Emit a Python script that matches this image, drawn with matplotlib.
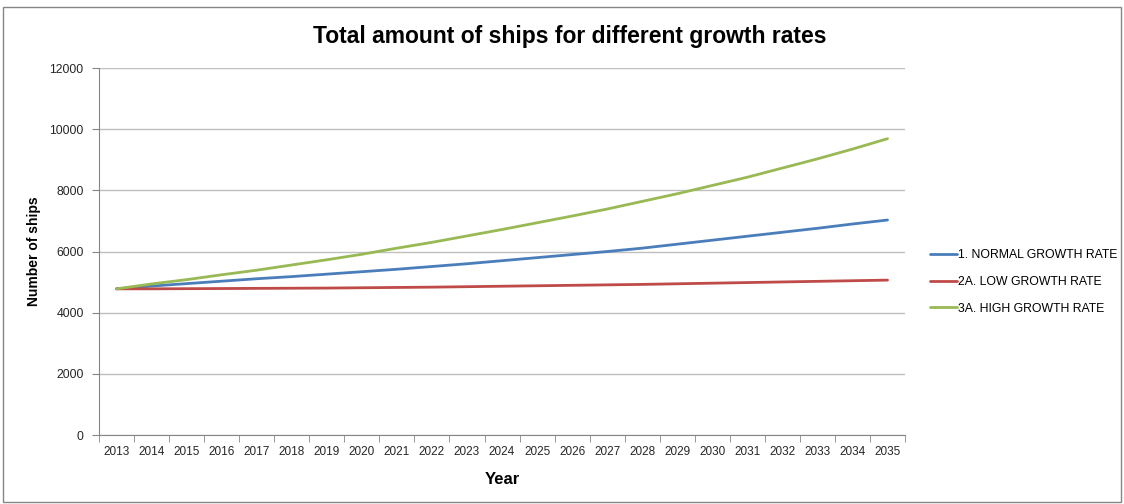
import matplotlib
matplotlib.use("Agg")
import matplotlib.pyplot as plt
from matplotlib.patches import Rectangle

years = [str(y) for y in range(2013, 2036)]
normal = [4780, 4870, 4950, 5030, 5110, 5180, 5260, 5340, 5420, 5510, 5600, 5700,
          5800, 5900, 6000, 6110, 6240, 6370, 6500, 6630, 6760, 6900, 7030]
low = [4780, 4780, 4785, 4790, 4795, 4800, 4805, 4815, 4825, 4835, 4850, 4865,
       4880, 4895, 4910, 4925, 4945, 4965, 4985, 5005, 5025, 5045, 5065]
high = [4780, 4940, 5080, 5240, 5390, 5560, 5730, 5910, 6110, 6300, 6510, 6720,
        6940, 7160, 7390, 7640, 7890, 8160, 8430, 8730, 9030, 9350, 9690]
labels = ["1. NORMAL GROWTH RATE", "2A. LOW GROWTH RATE", "3A. HIGH GROWTH RATE"]
colors = ["#4A7EBB", "#BE4B48", "#98B954"]

plt.rcParams['font.family'] = ['Liberation Sans', 'DejaVu Sans']

fig = plt.figure(figsize=(11.24, 5.04), dpi=100)
ax = fig.add_axes([0.0881, 0.1369, 0.7171, 0.7281])

x = list(range(len(years)))
for vals, lbl, c in zip([normal, low, high], labels, colors):
    ax.plot(x, vals, color=c, linewidth=2.0, label=lbl, solid_capstyle="round")

ax.set_xlim(-0.5, len(years) - 0.5)
ax.set_ylim(0, 12000)
ax.set_yticks(range(0, 12001, 2000))
ax.set_xticks(x)
ax.set_xticklabels(years, fontsize=8.5)
ax.set_xticks([i - 0.5 for i in range(len(years) + 1)], minor=True)
ax.tick_params(axis="x", which="major", length=0, pad=8, colors="#262626")
ax.tick_params(axis="x", which="minor", length=5, color="#868686")
ax.tick_params(axis="y", length=5, color="#868686", labelsize=8.8, pad=6,
               labelcolor="#262626")
ax.grid(axis="y", color="#BFBFBF", linewidth=1)
ax.set_axisbelow(True)
for s in ["top", "right"]:
    ax.spines[s].set_visible(False)
for s in ["left", "bottom"]:
    ax.spines[s].set_color("#868686")

ax.set_xlabel("Year", fontsize=12, fontweight="bold", labelpad=10)
ax.set_ylabel("Number of ships", fontsize=10, fontweight="bold", labelpad=6)
fig.text(0.507, 0.928, "Total amount of ships for different growth rates",
         fontsize=16.5, fontweight="bold", ha="center", va="center")

ax.legend(loc="center left", bbox_to_anchor=(1.017, 0.417), frameon=False,
          fontsize=8.8, handlelength=2.2, handletextpad=0.15, labelspacing=1.2)

fig.add_artist(Rectangle((0.003, 0.004), 0.994, 0.982, transform=fig.transFigure,
                         fill=False, edgecolor="#868686", linewidth=1))

fig.savefig("out.png", dpi=100)
